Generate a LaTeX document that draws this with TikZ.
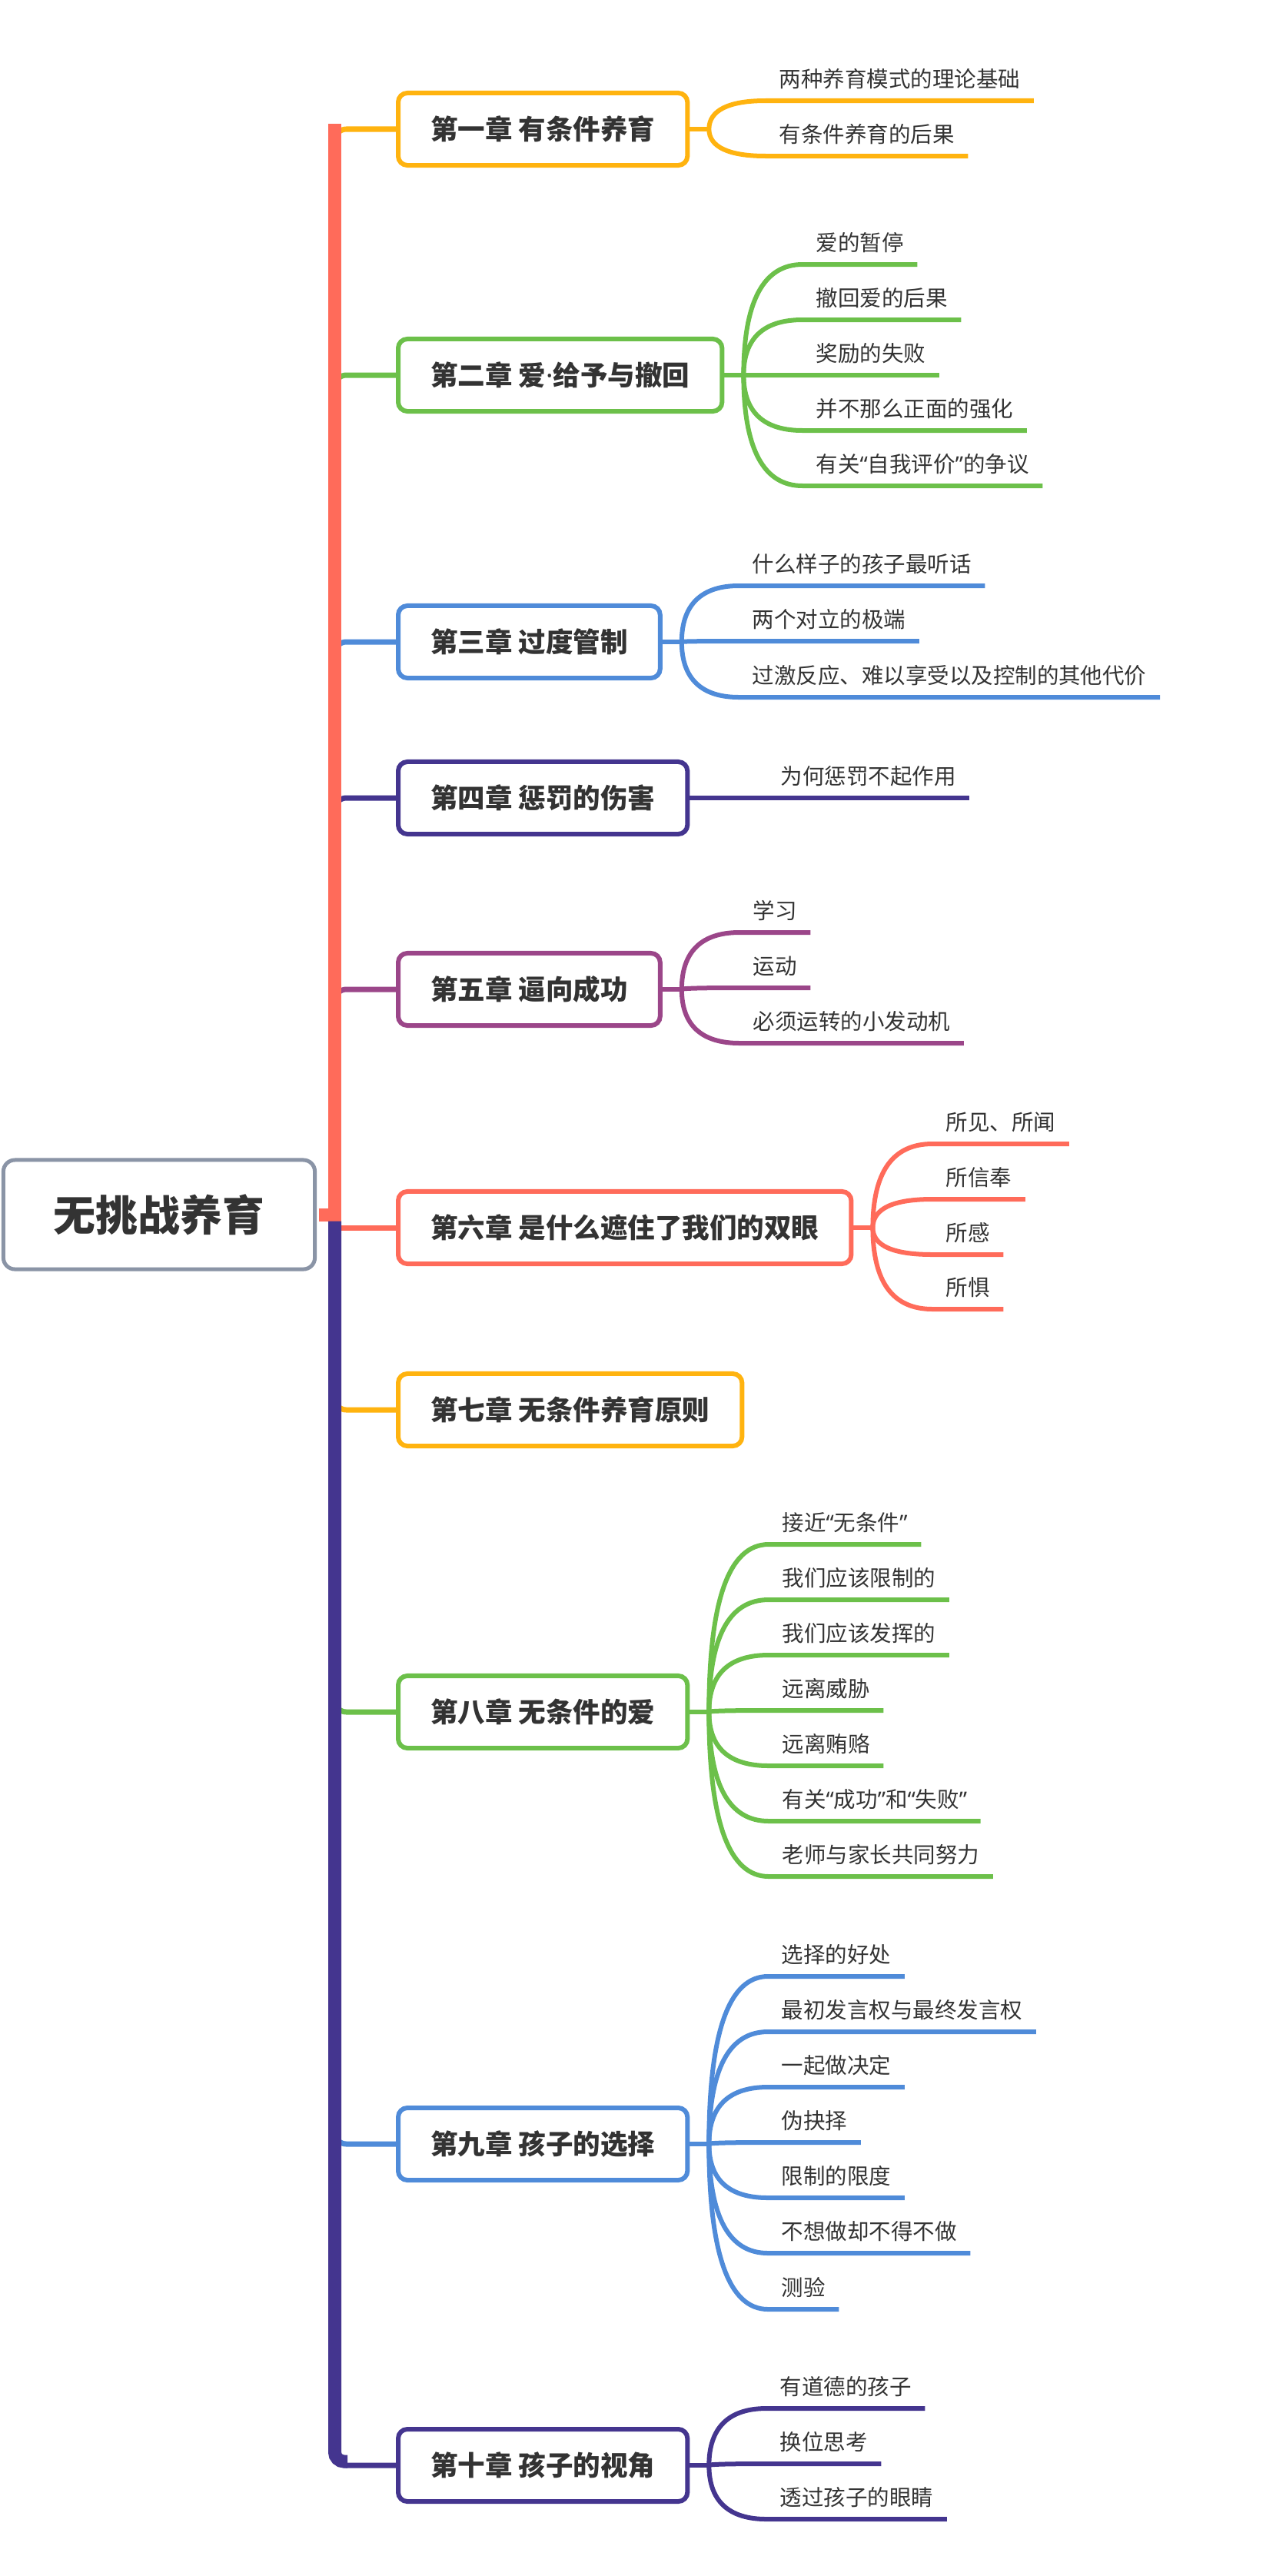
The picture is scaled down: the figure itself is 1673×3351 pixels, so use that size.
\documentclass[tikz,border=0pt]{standalone}
\usepackage{fontspec}
\setmainfont{Noto Sans CJK SC}
\newfontfamily\latinfont{Noto Sans}
\usetikzlibrary{calc}
\definecolor{capyel}{HTML}{FFB30F}
\definecolor{capgrn}{HTML}{6CC04A}
\definecolor{capblu}{HTML}{4F8BD9}
\definecolor{cappur}{HTML}{44358F}
\definecolor{capmag}{HTML}{9B4689}
\definecolor{capred}{HTML}{FF6B5A}
\definecolor{rootgray}{HTML}{8A94A6}
\definecolor{txtgray}{HTML}{333333}
\newcommand{\oq}{{\latinfont “}}
\newcommand{\cq}{{\latinfont ”}}

\begin{document}
\begin{tikzpicture}[x=0.01cm,y=-0.01cm,
  mainbox/.style={draw=rootgray,line width=0.05cm,rounded corners=0.15cm,fill=white,
    text=txtgray,font=\fontsize{15.6pt}{18pt}\selectfont\bfseries,
    minimum width=4.05cm,minimum height=1.42cm},
  chapbox/.style={draw=#1,line width=0.06cm,rounded corners=0.12cm,fill=white,
    text=txtgray,font=\fontsize{10.1pt}{12pt}\selectfont\bfseries,
    inner xsep=0.42cm,minimum height=0.94cm,anchor=west},
  subtxt/.style={text=txtgray,font=\fontsize{8.1pt}{10pt}\selectfont,
    inner xsep=0.17cm,inner ysep=0.17cm,text depth=0pt,anchor=south west},
  branchline/.style={draw=#1,line width=0.07cm,rounded corners=0.15cm},
  forkline/.style={draw=#1,line width=0.06cm}]
\useasboundingbox (0,0) rectangle (1673,3351);

\node[mainbox] (root) at (207,1580) {无挑战养育};

\node[chapbox=capyel] (c1) at (515,168) {第一章 有条件养育};
\node[chapbox=capgrn] (c2) at (515,488) {第二章 爱{\latinfont ·}给予与撤回};
\node[chapbox=capblu] (c3) at (515,835) {第三章 过度管制};
\node[chapbox=cappur] (c4) at (515,1038) {第四章 惩罚的伤害};
\node[chapbox=capmag] (c5) at (515,1287) {第五章 逼向成功};
\node[chapbox=capred] (c6) at (515,1597) {第六章 是什么遮住了我们的双眼};
\node[chapbox=capyel] (c7) at (515,1834) {第七章 无条件养育原则};
\node[chapbox=capgrn] (c8) at (515,2227) {第八章 无条件的爱};
\node[chapbox=capblu] (c9) at (515,2789) {第九章 孩子的选择};
\node[chapbox=cappur] (c10) at (515,3207) {第十章 孩子的视角};

% trunk
\coordinate (hub) at (435.5,1580);
\coordinate (ttop) at (435.5,161);
\coordinate (tbot) at (435.5,1588.5);
\coordinate (tend) at (452,3202);
\draw[branchline=capyel] (hub) |- (c1.west);
\draw[branchline=capgrn] (hub) |- (c2.west);
\draw[branchline=capblu] (hub) |- (c3.west);
\draw[branchline=cappur] (hub) |- (c4.west);
\draw[branchline=capmag] (hub) |- (c5.west);
\draw[branchline=capred] (hub |- c6.west) -- (c6.west);
\draw[branchline=capyel] (hub) |- (c7.west);
\draw[branchline=capgrn] (hub) |- (c8.west);
\draw[branchline=capblu] (hub) |- (c9.west);
\draw[branchline=cappur] (hub) |- (c10.west);
\draw[capred,line width=0.17cm] ([xshift=0.025cm]root.east) -| (ttop);
\draw[cappur,line width=0.17cm,rounded corners=0.12cm] (tbot) |- (tend);

% chapter 1
\coordinate (f1) at ([xshift=0.25cm]c1.east);
\draw[forkline=capyel] (c1.east) -- (f1);
\node[subtxt] (s11) at (996,131) {两种养育模式的理论基础};
\node[subtxt] (s12) at (996,203) {有条件养育的后果};
\draw[forkline=capyel] (f1) .. controls ($(f1)!0.667!(f1 |- s11.south west)$) and ([xshift=0.26cm]f1 |- s11.south west) .. (s11.south west) -- (s11.south east);
\draw[forkline=capyel] (f1) .. controls ($(f1)!0.667!(f1 |- s12.south west)$) and ([xshift=0.26cm]f1 |- s12.south west) .. (s12.south west) -- (s12.south east);

% chapter 2
\coordinate (f2) at ([xshift=0.25cm]c2.east);
\draw[forkline=capgrn] (c2.east) -- (f2);
\node[subtxt] (s21) at (1044,344) {爱的暂停};
\node[subtxt] (s22) at (1044,416) {撤回爱的后果};
\node[subtxt] (s23) at (1044,488) {奖励的失败};
\node[subtxt] (s24) at (1044,560) {并不那么正面的强化};
\node[subtxt] (s25) at (1044,632) {有关\oq 自我评价\cq 的争议};
\draw[forkline=capgrn] (f2) .. controls ($(f2)!0.667!(f2 |- s21.south west)$) and ([xshift=0.26cm]f2 |- s21.south west) .. (s21.south west) -- (s21.south east);
\draw[forkline=capgrn] (f2) .. controls ($(f2)!0.667!(f2 |- s22.south west)$) and ([xshift=0.26cm]f2 |- s22.south west) .. (s22.south west) -- (s22.south east);
\draw[forkline=capgrn] (f2) .. controls ($(f2)!0.667!(f2 |- s23.south west)$) and ([xshift=0.26cm]f2 |- s23.south west) .. (s23.south west) -- (s23.south east);
\draw[forkline=capgrn] (f2) .. controls ($(f2)!0.667!(f2 |- s24.south west)$) and ([xshift=0.26cm]f2 |- s24.south west) .. (s24.south west) -- (s24.south east);
\draw[forkline=capgrn] (f2) .. controls ($(f2)!0.667!(f2 |- s25.south west)$) and ([xshift=0.26cm]f2 |- s25.south west) .. (s25.south west) -- (s25.south east);

% chapter 3
\coordinate (f3) at ([xshift=0.25cm]c3.east);
\draw[forkline=capblu] (c3.east) -- (f3);
\node[subtxt] (s31) at (961,762) {什么样子的孩子最听话};
\node[subtxt] (s32) at (961,834) {两个对立的极端};
\node[subtxt] (s33) at (961,907) {过激反应、难以享受以及控制的其他代价};
\draw[forkline=capblu] (f3) .. controls ($(f3)!0.667!(f3 |- s31.south west)$) and ([xshift=0.26cm]f3 |- s31.south west) .. (s31.south west) -- (s31.south east);
\draw[forkline=capblu] (f3) .. controls ($(f3)!0.667!(f3 |- s32.south west)$) and ([xshift=0.26cm]f3 |- s32.south west) .. (s32.south west) -- (s32.south east);
\draw[forkline=capblu] (f3) .. controls ($(f3)!0.667!(f3 |- s33.south west)$) and ([xshift=0.26cm]f3 |- s33.south west) .. (s33.south west) -- (s33.south east);

% chapter 4
\node[subtxt] (s41) at (998,1038) {为何惩罚不起作用};
\draw[forkline=cappur] (c4.east) -- (s41.south west) -- (s41.south east);

% chapter 5
\coordinate (f5) at ([xshift=0.25cm]c5.east);
\draw[forkline=capmag] (c5.east) -- (f5);
\node[subtxt] (s51) at (962,1213) {学习};
\node[subtxt] (s52) at (962,1285) {运动};
\node[subtxt] (s53) at (962,1357) {必须运转的小发动机};
\draw[forkline=capmag] (f5) .. controls ($(f5)!0.667!(f5 |- s51.south west)$) and ([xshift=0.26cm]f5 |- s51.south west) .. (s51.south west) -- (s51.south east);
\draw[forkline=capmag] (f5) .. controls ($(f5)!0.667!(f5 |- s52.south west)$) and ([xshift=0.26cm]f5 |- s52.south west) .. (s52.south west) -- (s52.south east);
\draw[forkline=capmag] (f5) .. controls ($(f5)!0.667!(f5 |- s53.south west)$) and ([xshift=0.26cm]f5 |- s53.south west) .. (s53.south west) -- (s53.south east);

% chapter 6
\coordinate (f6) at ([xshift=0.25cm]c6.east);
\draw[forkline=capred] (c6.east) -- (f6);
\node[subtxt] (s61) at (1213,1488) {所见、所闻};
\node[subtxt] (s62) at (1213,1560) {所信奉};
\node[subtxt] (s63) at (1213,1632) {所感};
\node[subtxt] (s64) at (1213,1703) {所惧};
\draw[forkline=capred] (f6) .. controls ($(f6)!0.667!(f6 |- s61.south west)$) and ([xshift=0.26cm]f6 |- s61.south west) .. (s61.south west) -- (s61.south east);
\draw[forkline=capred] (f6) .. controls ($(f6)!0.667!(f6 |- s62.south west)$) and ([xshift=0.26cm]f6 |- s62.south west) .. (s62.south west) -- (s62.south east);
\draw[forkline=capred] (f6) .. controls ($(f6)!0.667!(f6 |- s63.south west)$) and ([xshift=0.26cm]f6 |- s63.south west) .. (s63.south west) -- (s63.south east);
\draw[forkline=capred] (f6) .. controls ($(f6)!0.667!(f6 |- s64.south west)$) and ([xshift=0.26cm]f6 |- s64.south west) .. (s64.south west) -- (s64.south east);

% chapter 8
\coordinate (f8) at ([xshift=0.25cm]c8.east);
\draw[forkline=capgrn] (c8.east) -- (f8);
\node[subtxt] (s81) at (1000,2009) {接近\oq 无条件\cq};
\node[subtxt] (s82) at (1000,2081) {我们应该限制的};
\node[subtxt] (s83) at (1000,2153) {我们应该发挥的};
\node[subtxt] (s84) at (1000,2225) {远离威胁};
\node[subtxt] (s85) at (1000,2297) {远离贿赂};
\node[subtxt] (s86) at (1000,2369) {有关\oq 成功\cq 和\oq 失败\cq};
\node[subtxt] (s87) at (1000,2441) {老师与家长共同努力};
\draw[forkline=capgrn] (f8) .. controls ($(f8)!0.667!(f8 |- s81.south west)$) and ([xshift=0.26cm]f8 |- s81.south west) .. (s81.south west) -- (s81.south east);
\draw[forkline=capgrn] (f8) .. controls ($(f8)!0.667!(f8 |- s82.south west)$) and ([xshift=0.26cm]f8 |- s82.south west) .. (s82.south west) -- (s82.south east);
\draw[forkline=capgrn] (f8) .. controls ($(f8)!0.667!(f8 |- s83.south west)$) and ([xshift=0.26cm]f8 |- s83.south west) .. (s83.south west) -- (s83.south east);
\draw[forkline=capgrn] (f8) .. controls ($(f8)!0.667!(f8 |- s84.south west)$) and ([xshift=0.26cm]f8 |- s84.south west) .. (s84.south west) -- (s84.south east);
\draw[forkline=capgrn] (f8) .. controls ($(f8)!0.667!(f8 |- s85.south west)$) and ([xshift=0.26cm]f8 |- s85.south west) .. (s85.south west) -- (s85.south east);
\draw[forkline=capgrn] (f8) .. controls ($(f8)!0.667!(f8 |- s86.south west)$) and ([xshift=0.26cm]f8 |- s86.south west) .. (s86.south west) -- (s86.south east);
\draw[forkline=capgrn] (f8) .. controls ($(f8)!0.667!(f8 |- s87.south west)$) and ([xshift=0.26cm]f8 |- s87.south west) .. (s87.south west) -- (s87.south east);

% chapter 9
\coordinate (f9) at ([xshift=0.25cm]c9.east);
\draw[forkline=capblu] (c9.east) -- (f9);
\node[subtxt] (s91) at (999,2571) {选择的好处};
\node[subtxt] (s92) at (999,2643) {最初发言权与最终发言权};
\node[subtxt] (s93) at (999,2715) {一起做决定};
\node[subtxt] (s94) at (999,2787) {伪抉择};
\node[subtxt] (s95) at (999,2859) {限制的限度};
\node[subtxt] (s96) at (999,2931) {不想做却不得不做};
\node[subtxt] (s97) at (999,3004) {测验};
\draw[forkline=capblu] (f9) .. controls ($(f9)!0.667!(f9 |- s91.south west)$) and ([xshift=0.26cm]f9 |- s91.south west) .. (s91.south west) -- (s91.south east);
\draw[forkline=capblu] (f9) .. controls ($(f9)!0.667!(f9 |- s92.south west)$) and ([xshift=0.26cm]f9 |- s92.south west) .. (s92.south west) -- (s92.south east);
\draw[forkline=capblu] (f9) .. controls ($(f9)!0.667!(f9 |- s93.south west)$) and ([xshift=0.26cm]f9 |- s93.south west) .. (s93.south west) -- (s93.south east);
\draw[forkline=capblu] (f9) .. controls ($(f9)!0.667!(f9 |- s94.south west)$) and ([xshift=0.26cm]f9 |- s94.south west) .. (s94.south west) -- (s94.south east);
\draw[forkline=capblu] (f9) .. controls ($(f9)!0.667!(f9 |- s95.south west)$) and ([xshift=0.26cm]f9 |- s95.south west) .. (s95.south west) -- (s95.south east);
\draw[forkline=capblu] (f9) .. controls ($(f9)!0.667!(f9 |- s96.south west)$) and ([xshift=0.26cm]f9 |- s96.south west) .. (s96.south west) -- (s96.south east);
\draw[forkline=capblu] (f9) .. controls ($(f9)!0.667!(f9 |- s97.south west)$) and ([xshift=0.26cm]f9 |- s97.south west) .. (s97.south west) -- (s97.south east);

% chapter 10
\coordinate (f10) at ([xshift=0.25cm]c10.east);
\draw[forkline=cappur] (c10.east) -- (f10);
\node[subtxt] (s101) at (997,3133) {有道德的孩子};
\node[subtxt] (s102) at (997,3205) {换位思考};
\node[subtxt] (s103) at (997,3277) {透过孩子的眼睛};
\draw[forkline=cappur] (f10) .. controls ($(f10)!0.667!(f10 |- s101.south west)$) and ([xshift=0.26cm]f10 |- s101.south west) .. (s101.south west) -- (s101.south east);
\draw[forkline=cappur] (f10) .. controls ($(f10)!0.667!(f10 |- s102.south west)$) and ([xshift=0.26cm]f10 |- s102.south west) .. (s102.south west) -- (s102.south east);
\draw[forkline=cappur] (f10) .. controls ($(f10)!0.667!(f10 |- s103.south west)$) and ([xshift=0.26cm]f10 |- s103.south west) .. (s103.south west) -- (s103.south east);
\end{tikzpicture}
\end{document}
